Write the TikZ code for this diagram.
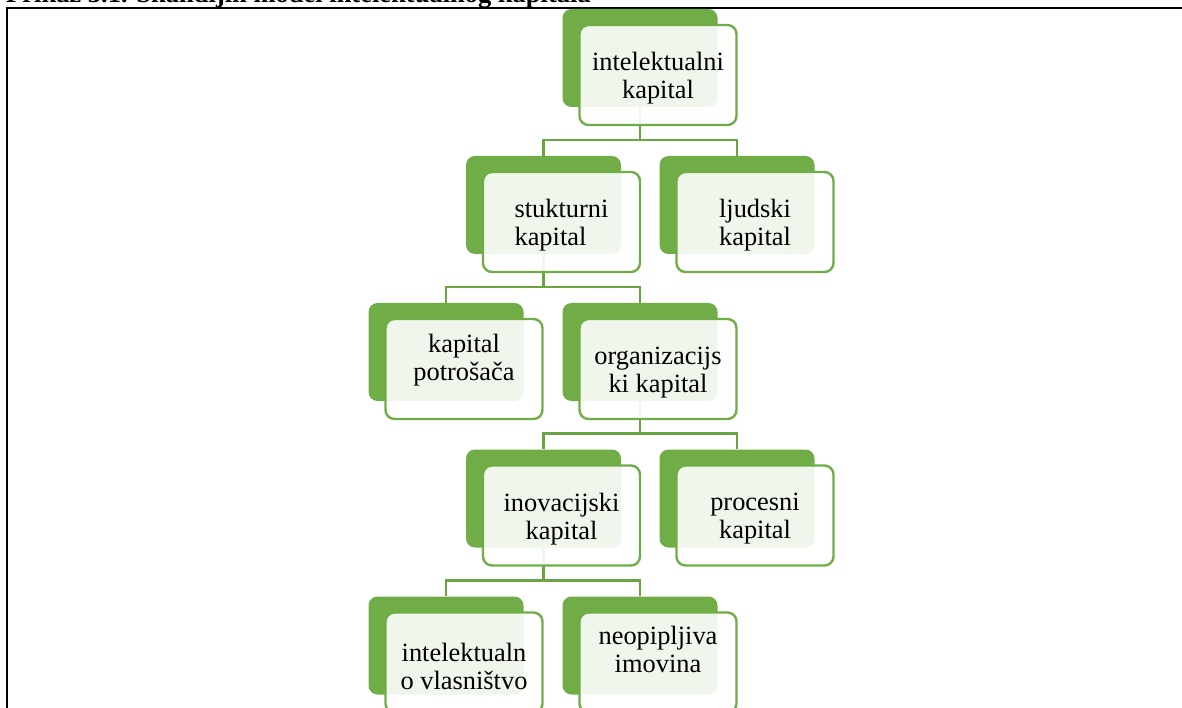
\documentclass[tikz,border=0pt]{standalone}
\usepackage{fontspec}
\setmainfont{Liberation Serif}
\usetikzlibrary{backgrounds,calc}
\definecolor{sgreen}{HTML}{70AD47}
\begin{document}
\begin{tikzpicture}[x=1pt,y=-1pt,
  back/.style={rectangle, rounded corners=9pt, fill=sgreen, minimum width=155pt, minimum height=98pt, inner sep=0pt},
  front/.style={rectangle, rounded corners=9pt, draw=sgreen, line width=2.4pt, fill=white, fill opacity=0.9, minimum width=157pt, minimum height=100pt, inner sep=0pt},
  lbl/.style={font=\fontsize{26.4}{28}\selectfont, align=center, inner sep=0pt, text=black},
  conn/.style={draw=sgreen!95!black, line width=2.4pt},
  frame/.style={draw=black, line width=2pt}]
\useasboundingbox (0,0) rectangle (1182,708);
% title (cut at the top)
\node[anchor=base west, inner sep=0pt, font=\bfseries\fontsize{26.5}{30}\selectfont] (title) at (6,3) {Prikaz 3.1. Skandijin model intelektualnog kapitala};
% frame
\draw[frame] (7,720) -- (7,8) -- (1190,8);
% back boxes
\node[back] (a) at (640,58) {};
\node[back] (b) at (543.5,205) {};
\node[back] (c) at (737,205) {};
\node[back] (d) at (446,352) {};
\node[back] (e) at (640,352) {};
\node[back] (f) at (543.5,498.5) {};
\node[back] (g) at (737,498.5) {};
\node[back] (h) at (446,645.5) {};
\node[back] (i) at (640,645.5) {};
% front boxes
\node[front] (aF) at ($(a)+(18,17)$) {};
\node[front] (bF) at ($(b)+(18,17)$) {};
\node[front] (cF) at ($(c)+(18,17)$) {};
\node[front] (dF) at ($(d)+(18,17)$) {};
\node[front] (eF) at ($(e)+(18,17)$) {};
\node[front] (fF) at ($(f)+(18,17)$) {};
\node[front] (gF) at ($(g)+(18,17)$) {};
\node[front] (hF) at ($(h)+(18,17)$) {};
\node[front] (iF) at ($(i)+(18,17)$) {};
% texts
\node[lbl] (aT) at ($(aF)+(0,3.5)$) {intelektualni\\kapital};
\node[lbl, align=left] (bT) at ($(bF)+(0,3.5)$) {stukturni\\kapital};
\node[lbl] (cT) at ($(cF)+(0,3.5)$) {ljudski\\kapital};
\node[lbl] (dT) at ($(dF)+(0,-9)$) {kapital\\potrošača};
\node[lbl] (eT) at ($(eF)+(0,3.5)$) {organizacijs\\ki kapital};
\node[lbl] (fT) at ($(fF)+(0,3.5)$) {inovacijski\\kapital};
\node[lbl] (gT) at ($(gF)+(0,3.5)$) {procesni\\kapital};
\node[lbl] (hT) at ($(hF)+(0,3.5)$) {intelektualn\\o vlasništvo};
\node[lbl] (iT) at ($(iF)+(0,-13)$) {neopipljiva\\imovina};
% connectors
\begin{pgfonlayer}{background}
\fill[white] (0,0) rectangle (1182,708);
\draw[conn] (a.south) |- ([yshift=16pt]b.north) -- (b.north);
\draw[conn] (a.south) |- ([yshift=16pt]c.north) -- (c.north);
\draw[conn] (b.south) |- ([yshift=16pt]d.north) -- (d.north);
\draw[conn] (b.south) |- ([yshift=16pt]e.north) -- (e.north);
\draw[conn] (e.south) |- ([yshift=16pt]f.north) -- (f.north);
\draw[conn] (e.south) |- ([yshift=16pt]g.north) -- (g.north);
\draw[conn] (f.south) |- ([yshift=16pt]h.north) -- (h.north);
\draw[conn] (f.south) |- ([yshift=16pt]i.north) -- (i.north);
\end{pgfonlayer}
\end{tikzpicture}
\end{document}
